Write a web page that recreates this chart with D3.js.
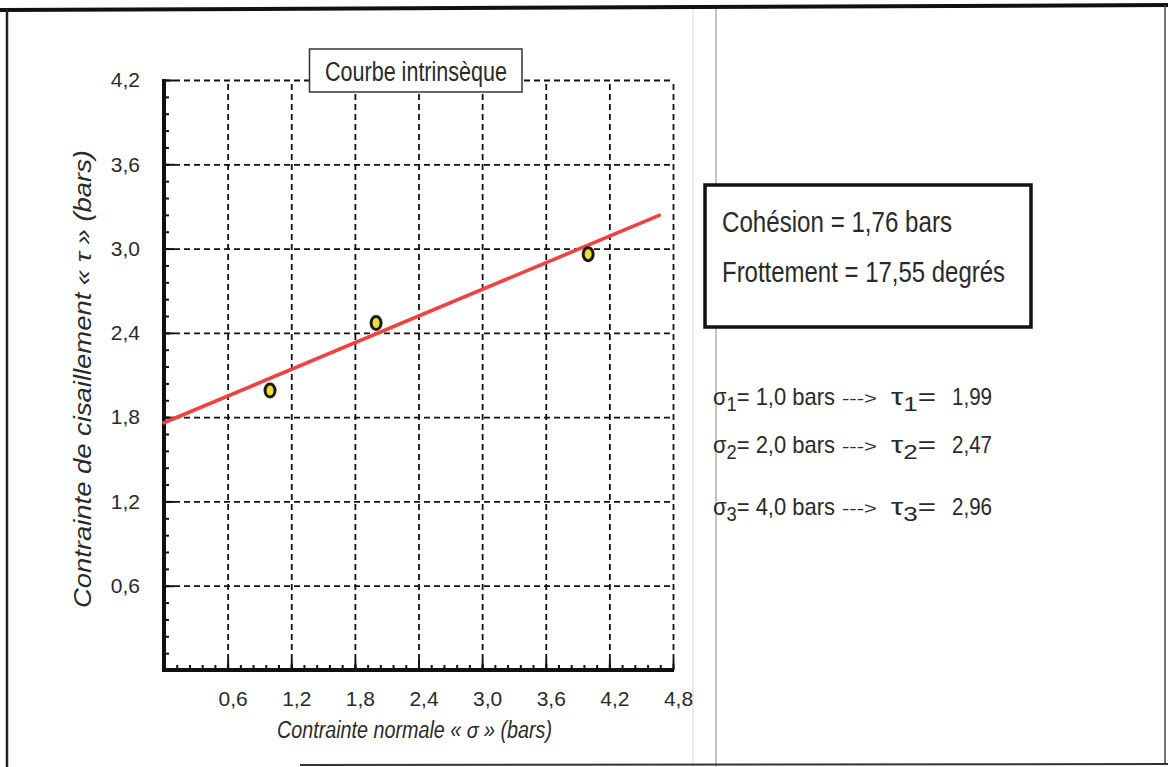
<!DOCTYPE html>
<html>
<head>
<meta charset="utf-8">
<script src="https://cdn.jsdelivr.net/npm/d3@7"></script>
<style>
  html, body { margin: 0; padding: 0; background: #fff; }
  svg { display: block; }
  text { font-family: "Liberation Sans", Arial, sans-serif; fill: #2a2a2a; }
</style>
</head>
<body>
<script>
// Shear test results: normal stress sigma (bars) vs shear stress tau (bars)
const sigmaTicks = [0.6, 1.2, 1.8, 2.4, 3.0, 3.6, 4.2, 4.8];
const tauTicks = [0.6, 1.2, 1.8, 2.4, 3.0, 3.6, 4.2];
const sigmaValues = [1.0, 2.0, 4.0];
const tauValues = [1.99, 2.47, 2.96];
const cohesion = 1.76;        // bars
const frictionAngle = 17.55;  // degrees
const lineSigmaRange = [0, 4.67];

const W = 1168, H = 767;
const svg = d3.select("body").append("svg").attr("width", W).attr("height", H);

// page frame
svg.append("rect").attr("width", W).attr("height", H).attr("fill", "#fff");
svg.append("line").attr("x1", 693).attr("x2", 693).attr("y1", 6).attr("y2", H).attr("stroke", "#d6d6d6").attr("stroke-width", 1);
svg.append("line").attr("x1", 716).attr("x2", 716).attr("y1", 6).attr("y2", H).attr("stroke", "#999").attr("stroke-width", 1.2);
svg.append("line").attr("x1", 0).attr("x2", W).attr("y1", 10).attr("y2", 5).attr("stroke", "#111").attr("stroke-width", 4);
svg.append("line").attr("x1", 7).attr("x2", 7).attr("y1", 9).attr("y2", H).attr("stroke", "#222").attr("stroke-width", 2.5);
svg.append("line").attr("x1", 1165).attr("x2", 1165).attr("y1", 5).attr("y2", 764).attr("stroke", "#444").attr("stroke-width", 1.5);
svg.append("line").attr("x1", 300).attr("x2", W).attr("y1", 765).attr("y2", 764).attr("stroke", "#333").attr("stroke-width", 2);

const x = d3.scaleLinear().domain([0, 4.8]).range([164, 673]);
const y = d3.scaleLinear().domain([0, 4.2]).range([670, 80]);
const fmt = v => d3.format(".1f")(v).replace(".", ",");
const fmt2 = v => d3.format(".2f")(v).replace(".", ",");

const x0 = x(0), y0 = y(0);
const plotW = x(4.8) - x0, plotH = y0 - y(4.2);

// dashed grid
const grid = svg.append("g");
grid.append("g").attr("transform", `translate(${x0},0)`)
  .call(d3.axisLeft(y).tickValues(tauTicks).tickSize(-plotW).tickFormat(""))
  .call(g => g.select(".domain").remove());
grid.append("g").attr("transform", `translate(0,${y0})`)
  .call(d3.axisBottom(x).tickValues(sigmaTicks).tickSize(-plotH).tickFormat(""))
  .call(g => g.select(".domain").remove());
grid.selectAll("line").attr("stroke", "#111").attr("stroke-width", 1.8).attr("stroke-dasharray", "6,4");

// minor / major ticks pointing into the plot
const minorTau = d3.range(1, 35).map(i => +(i * 0.12).toFixed(2));
const minorSigma = d3.range(1, 40).map(i => +(i * 0.12).toFixed(2));

const yTicks = svg.append("g").attr("transform", `translate(${x0},0)`);
yTicks.append("g").call(d3.axisRight(y).tickValues(minorTau).tickSize(5).tickFormat(""));
yTicks.append("g").call(d3.axisRight(y).tickValues(tauTicks).tickSize(10).tickFormat(""));
yTicks.selectAll(".domain").remove();
yTicks.selectAll("line").attr("stroke", "#111").attr("stroke-width", 2);

const xTicks = svg.append("g").attr("transform", `translate(0,${y0})`);
xTicks.append("g").call(d3.axisTop(x).tickValues(minorSigma).tickSize(5).tickFormat(""));
xTicks.append("g").call(d3.axisTop(x).tickValues(sigmaTicks).tickSize(10).tickFormat(""));
xTicks.selectAll(".domain").remove();
xTicks.selectAll("line").attr("stroke", "#111").attr("stroke-width", 2);

// axis lines
svg.append("line").attr("x1", x0).attr("x2", x0).attr("y1", y(4.2) - 1).attr("y2", y0 + 2)
  .attr("stroke", "#111").attr("stroke-width", 4);
svg.append("line").attr("x1", x0 - 2).attr("x2", x(4.8) + 1).attr("y1", y0).attr("y2", y0)
  .attr("stroke", "#111").attr("stroke-width", 4);

// tick labels
const yLab = svg.append("g").attr("transform", `translate(${x0},0)`)
  .call(d3.axisLeft(y).tickValues(tauTicks).tickSize(0).tickPadding(24).tickFormat(fmt));
yLab.select(".domain").remove();
yLab.selectAll("text").attr("font-size", 21).attr("fill", "#2a2a2a")
  .attr("font-family", "'Liberation Sans', Arial, sans-serif");

const xLab = svg.append("g").attr("transform", `translate(0,${y0})`)
  .call(d3.axisBottom(x).tickValues(sigmaTicks).tickSize(0).tickPadding(21).tickFormat(fmt));
xLab.select(".domain").remove();
xLab.selectAll("text").attr("font-size", 21).attr("fill", "#2a2a2a").attr("dx", 5)
  .attr("font-family", "'Liberation Sans', Arial, sans-serif");

// axis titles
svg.append("text").attr("x", 277).attr("y", 738)
  .attr("font-size", 23).attr("font-style", "italic")
  .attr("textLength", 275).attr("lengthAdjust", "spacingAndGlyphs")
  .text("Contrainte normale « σ » (bars)");
svg.append("text").attr("transform", "translate(91,608) rotate(-90)")
  .attr("font-size", 23).attr("font-style", "italic")
  .attr("textLength", 458).attr("lengthAdjust", "spacingAndGlyphs")
  .text("Contrainte de cisaillement « τ » (bars)");

// intrinsic curve (Mohr–Coulomb line)
const slope = Math.tan(frictionAngle * Math.PI / 180);
const linePts = lineSigmaRange.map(s => [s, cohesion + slope * s]);
svg.append("path")
  .attr("d", d3.line().x(d => x(d[0])).y(d => y(d[1]))(linePts))
  .attr("fill", "none").attr("stroke", "#f04242").attr("stroke-width", 3.6).attr("stroke-linecap", "round");

// measured points
svg.append("g").selectAll("ellipse")
  .data(sigmaValues.map((s, i) => [s, tauValues[i]]))
  .join("ellipse")
  .attr("cx", d => x(d[0])).attr("cy", d => y(d[1]))
  .attr("rx", 5).attr("ry", 6.5)
  .attr("fill", "#efe030").attr("stroke", "#1a1a1a").attr("stroke-width", 3);

// title box
svg.append("rect").attr("x", 309.5).attr("y", 49).attr("width", 212.5).attr("height", 43)
  .attr("fill", "#fff").attr("stroke", "#333").attr("stroke-width", 1.5);
svg.append("text").attr("x", 325).attr("y", 81).attr("font-size", 27)
  .attr("textLength", 182).attr("lengthAdjust", "spacingAndGlyphs")
  .text("Courbe intrinsèque");

// cohesion / friction box
svg.append("rect").attr("x", 705).attr("y", 185).attr("width", 326).attr("height", 142)
  .attr("fill", "#fff").attr("stroke", "#111").attr("stroke-width", 3.5);
svg.append("text").attr("x", 722).attr("y", 232).attr("font-size", 30)
  .attr("textLength", 230).attr("lengthAdjust", "spacingAndGlyphs")
  .text(`Cohésion = ${fmt2(cohesion)} bars`);
svg.append("text").attr("x", 722).attr("y", 282).attr("font-size", 30)
  .attr("textLength", 283).attr("lengthAdjust", "spacingAndGlyphs")
  .text(`Frottement = ${fmt2(frictionAngle)} degrés`);

// measured values listing
const rowBaselines = [405, 453, 515];
const rows = svg.append("g").selectAll("g")
  .data(sigmaValues.map((s, i) => ({ i: i + 1, s, t: tauValues[i], yb: rowBaselines[i] })))
  .join("g");

const sigmaText = rows.append("text").attr("x", 713).attr("y", d => d.yb).attr("font-size", 24)
  .attr("textLength", 122).attr("lengthAdjust", "spacingAndGlyphs");
sigmaText.append("tspan").text("σ");
sigmaText.append("tspan").attr("dy", 6).attr("font-size", 20).text(d => d.i);
sigmaText.append("tspan").attr("dy", -6).text(d => `= ${fmt(d.s)} bars`);

rows.append("text").attr("x", 842).attr("y", d => d.yb - 1).attr("font-size", 17)
  .attr("textLength", 35).attr("lengthAdjust", "spacingAndGlyphs").text("--->");

const tauText = rows.append("text").attr("x", 891).attr("y", d => d.yb).attr("font-size", 24)
  .attr("textLength", 45).attr("lengthAdjust", "spacingAndGlyphs");
tauText.append("tspan").text("τ");
tauText.append("tspan").attr("dy", 6).attr("font-size", 20).text(d => d.i);
tauText.append("tspan").attr("dy", -6).text("=");

rows.append("text").attr("x", 952).attr("y", d => d.yb).attr("font-size", 24)
  .attr("textLength", 40).attr("lengthAdjust", "spacingAndGlyphs")
  .text(d => fmt2(d.t));
</script>
</body>
</html>
